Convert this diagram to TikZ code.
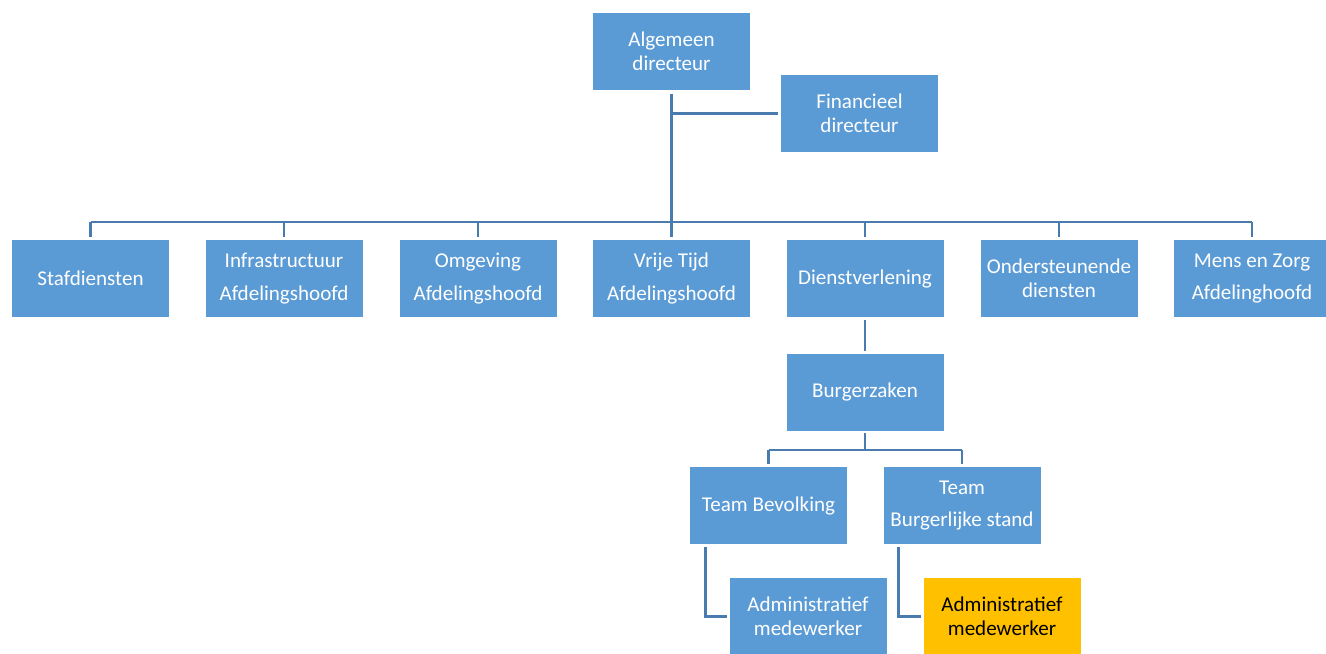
\documentclass[tikz,border=0pt]{standalone}
\usepackage{fontspec}
\setmainfont{Carlito}
\definecolor{boxblue}{HTML}{5B9BD5}
\definecolor{lineblue}{HTML}{4A7BAF}
\definecolor{gold}{HTML}{FFC000}
\begin{document}
\begin{tikzpicture}[x=0.75pt,y=-0.75pt,
  box/.style={fill=boxblue, draw=none, text=white, minimum width=117.75pt, minimum height=57.75pt,
    inner sep=0pt, align=center, font=\fontsize{15.8}{18}\selectfont},
  boxw/.style={box, font=\fontsize{15.8}{24.5}\selectfont},
  goldbox/.style={box, fill=gold, text=black},
  conn/.style={draw=lineblue, line width=2.2pt}]
\useasboundingbox (0,0) rectangle (1326,653);
\fill[white] (0,0) rectangle (1326,653);
% top
\node[box] (alg) at (671.5,51) {Algemeen\\directeur};
\node[box] (fin) at (859.5,113.5) {Financieel\\directeur};
% level 2
\node[box] (stf) at (90.5,278.5) {Stafdiensten};
\node[boxw] (inf) at (284,278.5) {Infrastructuur\\Afdelingshoofd};
\node[boxw] (omg) at (478,278.5) {Omgeving\\Afdelingshoofd};
\node[boxw] (vrt) at (671.5,278.5) {Vrije Tijd\\Afdelingshoofd};
\node[box] (dv) at (865,278.5) {Dienstverlening};
\node[box] (ond) at (1059,278.5) {Ondersteunende\\diensten};
\node[boxw] (mz) at (1252,278.5) {Mens en Zorg\\Afdelinghoofd};
% lower
\node[box] (bz) at (865,392) {Burgerzaken};
\node[box] (tb) at (768.5,505.5) {Team Bevolking};
\node[boxw] (tbs) at (962,505.5) {Team\\Burgerlijke stand};
\node[box] (am1) at (808,616.5) {Administratief\\medewerker};
\node[goldbox] (am2) at (1002,616.5) {Administratief\\medewerker};
% bus coordinates
\coordinate (bus) at (0,222);
\coordinate (bus2) at (0,450);
% connectors
\draw[conn] ([yshift=-3pt]alg.south) -- (alg.south |- bus);
\draw[conn] (alg.south |- fin.west) -- ([xshift=-2pt]fin.west);
\draw[conn] (stf.north |- bus) -- (mz.north |- bus);
\foreach \n in {stf,inf,omg,vrt,dv,ond,mz}{
  \draw[conn] (\n.north |- bus) -- ([yshift=2pt]\n.north);
}
\draw[conn] ([yshift=-2pt]dv.south) -- ([yshift=2pt]bz.north);
\draw[conn] ([yshift=-2pt]bz.south) -- (bz.south |- bus2);
\draw[conn] (tb.north |- bus2) -- (tbs.north |- bus2);
\foreach \n in {tb,tbs}{
  \draw[conn] (\n.north |- bus2) -- ([yshift=2pt]\n.north);
}
\draw[conn] ([xshift=-47.6pt,yshift=-2pt]tb.south) |- ([xshift=-2pt]am1.west);
\draw[conn] ([xshift=-47.6pt,yshift=-2pt]tbs.south) |- ([xshift=-2pt]am2.west);
\end{tikzpicture}
\end{document}
